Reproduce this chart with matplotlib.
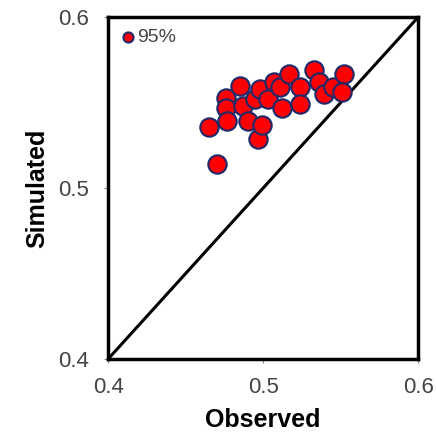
import numpy as np
import matplotlib.pyplot as plt

plt.rcParams['font.family'] = ['Liberation Sans', 'DejaVu Sans']

observed = [0.465, 0.470, 0.476, 0.476, 0.477, 0.485, 0.487, 0.490, 0.495,
            0.498, 0.497, 0.499, 0.503, 0.507, 0.511, 0.512, 0.517, 0.524,
            0.524, 0.533, 0.536, 0.539, 0.545, 0.552, 0.551]
simulated = [0.536, 0.514, 0.553, 0.547, 0.539, 0.560, 0.548, 0.539, 0.552,
             0.558, 0.529, 0.537, 0.552, 0.562, 0.559, 0.547, 0.567, 0.559,
             0.549, 0.569, 0.562, 0.555, 0.559, 0.567, 0.556]
ticks = [0.4, 0.5, 0.6]

fig = plt.figure(figsize=(4.36, 4.41), dpi=100)
ax = fig.add_axes([0.248, 0.186, 0.711, 0.775])

ax.plot([0.4, 0.6], [0.4, 0.6], color='black', linewidth=2.2, zorder=1)
ax.scatter(observed, simulated, s=175, facecolor='#ff0000', edgecolor='#1f2a6a',
           linewidth=1.5, label='95%', zorder=2)

ax.set_xlim(0.4, 0.6)
ax.set_ylim(0.4, 0.6)
ax.set_xticks(ticks)
ax.set_yticks(ticks)
ax.set_xticklabels(['0.4', '0.5', '0.6'])
ax.set_yticklabels(['0.4', '0.5', '0.6'])
ax.tick_params(labelsize=16, labelcolor='#444444', length=3, color='#888888')
ax.tick_params(axis='x', pad=10)
ax.tick_params(axis='y', pad=11)
for s in ax.spines.values():
    s.set_linewidth(2.5)
    s.set_color('black')

ax.set_xlabel('Observed', fontsize=18, fontweight='bold', labelpad=7)
ax.set_ylabel('Simulated', fontsize=18, fontweight='bold', labelpad=6)

ax.legend(loc='upper left', frameon=False, fontsize=14, markerscale=0.55,
          handletextpad=0.1, borderaxespad=0.2, handlelength=0.8,
          labelcolor='#444444')

plt.savefig('out.png', dpi=100)
